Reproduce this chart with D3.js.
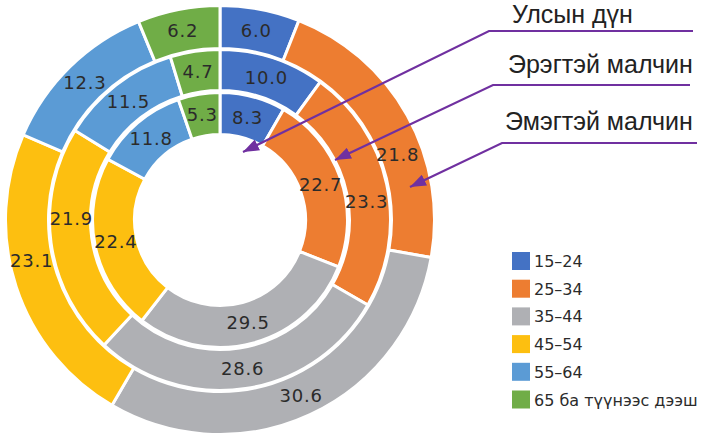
<!DOCTYPE html>
<html><head><meta charset="utf-8">
<script src="https://cdn.jsdelivr.net/npm/d3@7"></script>
<style>html,body{margin:0;padding:0;background:#fff;}</style>
</head><body>
<svg id="chart" width="701" height="434"></svg>
<script>
// ---- data ----
const categories = ["15–24", "25–34", "35–44", "45–54", "55–64", "65 ба түүнээс дээш"];
const ringNames = ["Улсын дүн", "Эрэгтэй малчин", "Эмэгтэй малчин"];
const nationalValues = [8.3, 22.7, 29.5, 22.4, 11.8, 5.3];
const maleHerderValues = [10.0, 23.3, 28.6, 21.9, 11.5, 4.7];
const femaleHerderValues = [6.0, 21.8, 30.6, 23.1, 12.3, 6.2];
const seriesValues = [nationalValues, maleHerderValues, femaleHerderValues];

// ---- style/layout ----
const colors = ["#4472C4", "#ED7D31", "#AFB0B4", "#FDBF10", "#5B9BD5", "#70AD47"];
const cx = 220, cy = 220;
const ringRadii = [[85.5, 127.5], [129.5, 170.5], [171.5, 214.5]];
// label nudges (ring, category) -> [dx, dy]
const labelNudge = {"1-1": [0, 13], "1-3": [0, -22], "2-1": [9, 29], "2-3": [-5, -20]};
const calloutLayout = [
  {text: [512, 23], line: [[693, 31], [489, 31]], tip: [243, 152]},
  {text: [508, 73], line: [[690, 85], [493, 85]], tip: [335, 160]},
  {text: [505, 130], line: [[697, 143], [502, 143]], tip: [410, 187]}
];
const numFont = "'DejaVu Sans', Verdana, sans-serif";

const svg = d3.select("#chart");
const g = svg.append("g").attr("transform", `translate(${cx},${cy})`);
const pie = d3.pie().sort(null).value(d => d);

seriesValues.forEach((vals, ri) => {
  const arc = d3.arc().innerRadius(ringRadii[ri][0]).outerRadius(ringRadii[ri][1]);
  const arcs = pie(vals);
  const rg = g.append("g");
  rg.selectAll("path").data(arcs).join("path")
    .attr("d", arc)
    .attr("fill", (d, i) => colors[i])
    .attr("stroke", "#fff").attr("stroke-width", 3).attr("stroke-linejoin", "miter");
  rg.selectAll("text").data(arcs).join("text")
    .attr("transform", (d, i) => {
      const c = arc.centroid(d);
      const n = labelNudge[ri + "-" + i] || [0, 0];
      return `translate(${c[0] + n[0]},${c[1] + n[1]})`;
    })
    .attr("text-anchor", "middle").attr("dy", "0.36em")
    .attr("font-family", numFont)
    .attr("font-size", 18).attr("letter-spacing", 0.8).attr("fill", "#2b2b2b")
    .text(d => d.data.toFixed(1));
});

// arrow marker
const defs = svg.append("defs");
defs.append("marker").attr("id", "arrow")
  .attr("markerUnits", "userSpaceOnUse")
  .attr("viewBox", "0 0 16 12").attr("refX", 16).attr("refY", 6)
  .attr("markerWidth", 16).attr("markerHeight", 12).attr("orient", "auto")
  .append("path").attr("d", "M0,0 L16,6 L0,12 Z").attr("fill", "#7030A0");

calloutLayout.forEach((c, i) => {
  svg.append("path")
    .attr("d", d3.line()([c.line[0], c.line[1], c.tip]))
    .attr("fill", "none").attr("stroke", "#7030A0").attr("stroke-width", 2.2)
    .attr("marker-end", "url(#arrow)");
  svg.append("text").attr("x", c.text[0]).attr("y", c.text[1])
    .attr("font-family", "'Liberation Sans', Arial, sans-serif")
    .attr("font-size", 25).attr("fill", "#222")
    .text(ringNames[i]);
});

// legend
const legend = svg.append("g").attr("transform", "translate(512,252)");
const items = legend.selectAll("g").data(categories).join("g")
  .attr("transform", (d, i) => `translate(0,${i * 27.7})`);
items.append("rect").attr("width", 18).attr("height", 18).attr("fill", (d, i) => colors[i]);
items.append("text").attr("x", 22).attr("y", 15)
  .attr("font-family", numFont)
  .attr("font-size", 16).attr("fill", "#2b2b2b")
  .text(d => d);
</script>
</body></html>
